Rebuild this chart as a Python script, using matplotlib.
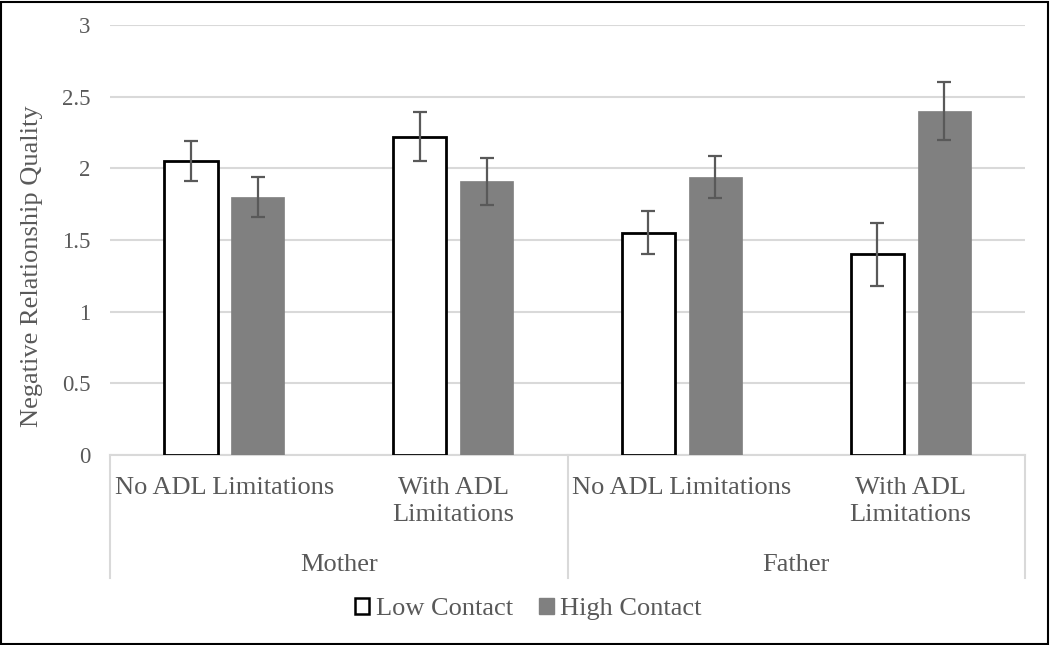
import numpy as np
import matplotlib.pyplot as plt
from matplotlib.patches import Patch, Rectangle
import matplotlib.transforms as mtransforms

# data
categories = ["No ADL Limitations", "With ADL\nLimitations", "No ADL Limitations", "With ADL\nLimitations"]
groups = ["Mother", "Father"]
low_contact = [2.05, 2.22, 1.55, 1.40]
low_err = [0.14, 0.17, 0.15, 0.22]
high_contact = [1.80, 1.91, 1.94, 2.40]
high_err = [0.14, 0.165, 0.145, 0.20]
yticks = [0, 0.5, 1, 1.5, 2, 2.5, 3]
ytick_labels = ["0", "0.5", "1", "1.5", "2", "2.5", "3"]

plt.rcParams['font.family'] = ['Liberation Serif', 'DejaVu Serif']
txt = '#595959'
grid = '#d9d9d9'
fs = 19

fig = plt.figure(figsize=(10.5, 6.45), dpi=100)
ax = fig.add_axes([0.1048, 0.2946, 0.8714, 0.6666])

x = np.arange(len(categories))
w = 0.232
off = 0.146
ax.bar(x - off, low_contact, w, color='white', edgecolor='black', linewidth=2, zorder=3)
ax.bar(x + off, high_contact, w, color='#808080', edgecolor='#808080', linewidth=0.5, zorder=3)
ax.errorbar(x - off, low_contact, yerr=low_err, fmt='none', ecolor='#595959', elinewidth=1.6, capsize=5, capthick=1.6, zorder=4)
ax.errorbar(x + off, high_contact, yerr=high_err, fmt='none', ecolor='#595959', elinewidth=1.6, capsize=5, capthick=1.6, zorder=4)

ax.set_xlim(-0.5, 3.5)
ax.set_ylim(0, 3)
ax.set_yticks(yticks)
ax.set_yticklabels(ytick_labels)
ax.tick_params(axis='y', length=0, labelsize=16.5, labelcolor=txt, pad=14)
ax.set_xticks([])
ax.yaxis.grid(True, color=grid, linewidth=1.5, zorder=0)
for s in ['top', 'right', 'left']:
    ax.spines[s].set_visible(False)
ax.spines['bottom'].set_color(grid)
ax.spines['bottom'].set_linewidth(1.5)
ax.set_ylabel("Negative Relationship Quality", fontsize=fs, color=txt)
ax.yaxis.set_label_coords(-0.073, 0.44)

# two-level category axis
trans = mtransforms.blended_transform_factory(ax.transData, ax.transAxes)
for i, c in enumerate(categories):
    ax.text(x[i], -0.052, c, transform=trans, ha='center', va='top', fontsize=fs,
            color=txt, linespacing=1.28)
for j, g in enumerate(groups):
    ax.text(2 * j + 0.5, -0.23, g, transform=trans, ha='center', va='top', fontsize=fs, color=txt)
for xs in [-0.5, 1.5, 3.5]:
    ax.plot([xs, xs], [0, -0.285], transform=trans, color=grid, linewidth=1.5, clip_on=False)

handles = [Patch(facecolor='white', edgecolor='black', linewidth=1.8, label='Low Contact'),
           Patch(facecolor='#808080', edgecolor='#808080', label='High Contact')]
leg = fig.legend(handles=handles, loc='center', bbox_to_anchor=(0.503, 0.056), ncol=2, frameon=False,
                 fontsize=fs, handlelength=0.55, handleheight=0.55, handletextpad=0.25, columnspacing=1.0)
for t in leg.get_texts():
    t.set_color(txt)

fig.patches.append(Rectangle((0.001, 0.001), 0.997, 0.996, transform=fig.transFigure,
                             fill=False, edgecolor='black', linewidth=1.5))

fig.savefig('out.png', dpi=100)
